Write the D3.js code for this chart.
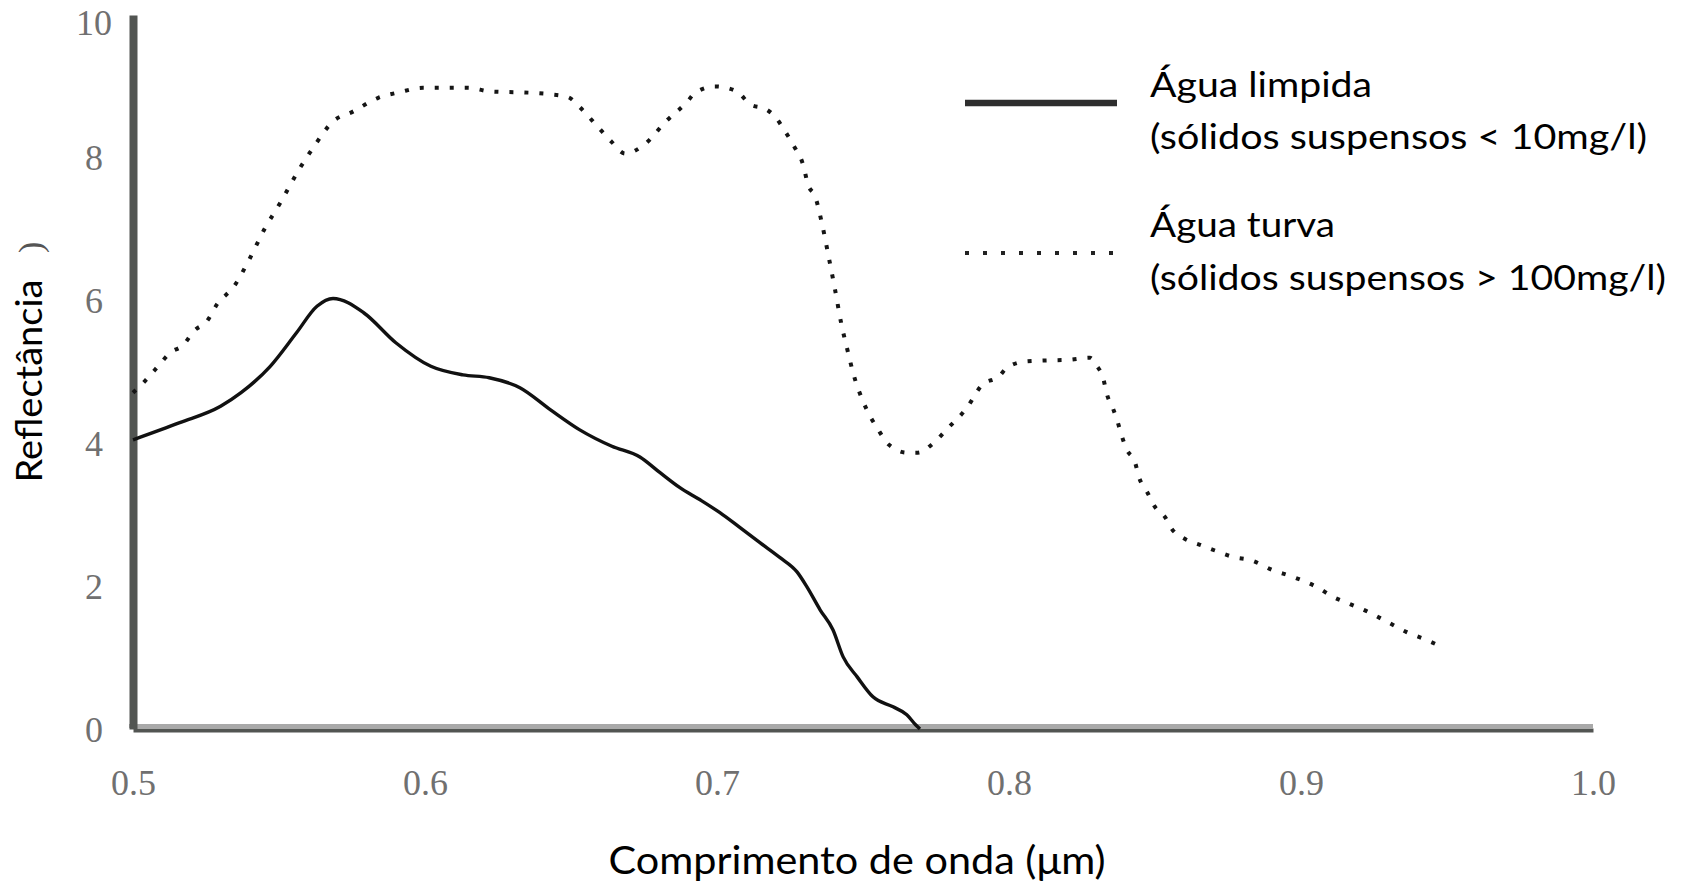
<!DOCTYPE html>
<html>
<head>
<meta charset="utf-8">
<script src="https://cdn.jsdelivr.net/npm/d3@7"></script>
<style>
  html, body { margin: 0; padding: 0; background: #fff; }
  svg { display: block; }
</style>
</head>
<body>
<svg id="chart" width="1688" height="886"></svg>
<script>
// Wavelength (µm) and reflectance for clear water (solid line)
const clearWl = [0.5, 0.516, 0.530, 0.537, 0.547, 0.556, 0.563, 0.5685, 0.579, 0.590, 0.602, 0.613, 0.622, 0.6325, 0.643, 0.653, 0.664, 0.6736, 0.6805, 0.6873, 0.6942, 0.701, 0.7079, 0.7147, 0.7216, 0.7274, 0.7308, 0.7353, 0.7397, 0.7432, 0.748, 0.7534, 0.7603, 0.765, 0.768, 0.7695];
const clearVal = [4.05, 4.29, 4.52, 4.71, 5.08, 5.55, 5.92, 6.03, 5.83, 5.41, 5.08, 4.96, 4.92, 4.78, 4.47, 4.19, 3.96, 3.81, 3.59, 3.38, 3.21, 3.03, 2.82, 2.61, 2.40, 2.20, 1.99, 1.67, 1.39, 1.01, 0.73, 0.45, 0.31, 0.20, 0.06, 0.0];

// Wavelength (µm) and reflectance for turbid water (dotted line)
const turbidWl = [0.5, 0.504, 0.509, 0.5127, 0.517, 0.521, 0.5253, 0.5288, 0.5346, 0.540, 0.545, 0.5503, 0.5565, 0.562, 0.5685, 0.575, 0.584, 0.5914, 0.5993, 0.6147, 0.6223, 0.6366, 0.6428, 0.649, 0.653, 0.6575, 0.6606, 0.664, 0.6685, 0.6753, 0.6825, 0.6897, 0.6925, 0.6993, 0.7068, 0.7113, 0.7168, 0.720, 0.723, 0.7264, 0.7295, 0.7312, 0.7336, 0.736, 0.7384, 0.7404, 0.7425, 0.7449, 0.7466, 0.75, 0.7527, 0.7548, 0.7589, 0.765, 0.7688, 0.774, 0.779, 0.7856, 0.7908, 0.7966, 0.7993, 0.806, 0.8116, 0.82, 0.8277, 0.830, 0.8322, 0.8336, 0.8356, 0.837, 0.8385, 0.8404, 0.8432, 0.8445, 0.8473, 0.85, 0.8534, 0.8558, 0.8603, 0.8654, 0.8705, 0.8767, 0.8832, 0.89, 0.8973, 0.9058, 0.911, 0.9168, 0.923, 0.930, 0.936, 0.9428, 0.9483];
const turbidVal = [4.71, 4.87, 5.10, 5.27, 5.37, 5.58, 5.71, 5.95, 6.20, 6.59, 7.00, 7.36, 7.81, 8.16, 8.51, 8.64, 8.84, 8.92, 8.98, 8.98, 8.93, 8.91, 8.89, 8.85, 8.71, 8.51, 8.37, 8.22, 8.06, 8.19, 8.51, 8.78, 8.91, 9.00, 8.93, 8.75, 8.68, 8.57, 8.39, 8.16, 7.90, 7.62, 7.46, 7.07, 6.58, 6.16, 5.69, 5.27, 4.99, 4.59, 4.36, 4.22, 3.98, 3.87, 3.87, 4.00, 4.21, 4.50, 4.82, 4.94, 5.06, 5.15, 5.16, 5.17, 5.20, 5.09, 4.92, 4.68, 4.49, 4.33, 4.12, 3.91, 3.73, 3.53, 3.32, 3.11, 2.97, 2.80, 2.66, 2.58, 2.50, 2.41, 2.36, 2.23, 2.13, 1.98, 1.85, 1.75, 1.64, 1.49, 1.36, 1.25, 1.15];

const xTicks = [0.5, 0.6, 0.7, 0.8, 0.9, 1.0];
const yTicks = [0, 2, 4, 6, 8, 10];

const seriesNames = ["Água limpida", "Água turva"];
const seriesNotes = ["(sólidos suspensos < 10mg/l)", "(sólidos suspensos > 100mg/l)"];
const xTitle = "Comprimento de onda (\u03bcm)";
const yTitle = "Reflectância";

const svg = d3.select("#chart");
const x = d3.scaleLinear().domain([0.5, 1.0]).range([133, 1593]);
const y = d3.scaleLinear().domain([0, 10]).range([729, 15]);

const tickFont = "'Liberation Serif', 'DejaVu Serif', serif";
const textFont = "Lato, 'Open Sans', sans-serif";

// X axis: light upper half + dark lower half
svg.append("line")
  .attr("x1", x(0.5) - 4).attr("x2", x(1.0))
  .attr("y1", y(0) - 3).attr("y2", y(0) - 3)
  .attr("stroke", "#a9a9a9").attr("stroke-width", 4);

const xAxis = svg.append("g")
  .attr("transform", `translate(0,${y(0) + 1})`)
  .call(d3.axisBottom(x).tickValues(xTicks).tickSize(0).tickSizeOuter(0).tickFormat(d3.format(".1f")));
xAxis.select(".domain").attr("stroke", "#525552").attr("stroke-width", 4);
xAxis.selectAll("text")
  .attr("font-family", tickFont).attr("font-size", 36)
  .attr("fill", "#707070").attr("y", 52).attr("dy", "0.35em");

// Y axis
const yAxis = svg.append("g")
  .attr("transform", `translate(${x(0.5)},0)`)
  .call(d3.axisLeft(y).tickValues(yTicks).tickSize(0).tickSizeOuter(0).tickFormat(d3.format("d")));
yAxis.select(".domain").attr("stroke", "#525552").attr("stroke-width", 8);
yAxis.selectAll(".tick")
  .attr("transform", d => `translate(0,${Math.max(y(d), 22)})`);
yAxis.selectAll("text")
  .attr("font-family", tickFont).attr("font-size", 36)
  .attr("fill", "#707070").attr("x", -39).attr("text-anchor", "middle").attr("dy", "0.35em");

// Curves
const line = d3.line().x(d => x(d[0])).y(d => y(d[1])).curve(d3.curveMonotoneX);
const clearData = clearWl.map((w, i) => [w, clearVal[i]]);
const turbidData = turbidWl.map((w, i) => [w, turbidVal[i]]);

svg.append("path").datum(clearData)
  .attr("d", line).attr("fill", "none")
  .attr("stroke", "#111").attr("stroke-width", 3.4).attr("stroke-linejoin", "round");

svg.append("path").datum(turbidData)
  .attr("d", line).attr("fill", "none")
  .attr("stroke", "#151515").attr("stroke-width", 4).attr("stroke-dasharray", "4 11");

// Legend
const legend = svg.append("g");
legend.append("line").attr("x1", 965).attr("x2", 1117).attr("y1", 103).attr("y2", 103)
  .attr("stroke", "#2e2e2e").attr("stroke-width", 6.5);
legend.append("line").attr("x1", 965).attr("x2", 1117).attr("y1", 253).attr("y2", 253)
  .attr("stroke", "#222").attr("stroke-width", 4).attr("stroke-dasharray", "4 14");

const legendRows = [
  {t: seriesNames[0], y: 97, len: 222},
  {t: seriesNotes[0], y: 149, len: 497},
  {t: seriesNames[1], y: 237, len: 185},
  {t: seriesNotes[1], y: 290, len: 516}
];
legend.selectAll("text.leg").data(legendRows).join("text")
  .attr("class", "leg")
  .attr("x", 1150).attr("y", d => d.y)
  .attr("font-family", textFont).attr("font-size", 34).attr("fill", "#000")
  .attr("textLength", d => d.len).attr("lengthAdjust", "spacingAndGlyphs")
  .text(d => d.t);

// Axis titles
svg.append("text")
  .attr("x", 857).attr("y", 874)
  .attr("text-anchor", "middle")
  .attr("font-family", textFont).attr("font-size", 38).attr("fill", "#000")
  .attr("textLength", 497).attr("lengthAdjust", "spacingAndGlyphs")
  .text(xTitle);

svg.append("text")
  .attr("transform", "translate(42,381) rotate(-90)")
  .attr("text-anchor", "middle")
  .attr("font-family", textFont).attr("font-size", 37).attr("fill", "#000")
  .attr("textLength", 203).attr("lengthAdjust", "spacingAndGlyphs")
  .text(yTitle);

svg.append("text")
  .attr("transform", "translate(42,253) rotate(-90)")
  .attr("font-family", tickFont).attr("font-size", 34).attr("fill", "#555")
  .text(")");
</script>
</body>
</html>
